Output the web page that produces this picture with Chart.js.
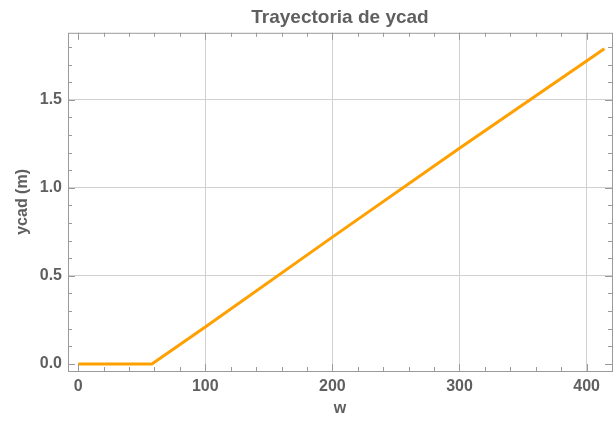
<!DOCTYPE html>
<html>
<head>
<meta charset="utf-8">
<script src="https://cdn.jsdelivr.net/npm/chart.js@4/dist/chart.umd.min.js"></script>
<style>
  html, body { margin: 0; padding: 0; background: #fff; }
  #wrap { width: 613px; height: 421px; position: relative; }
</style>
</head>
<body>
<div id="wrap"><canvas id="c"></canvas></div>
<script>
// data
const wValues = [0, 58, 100, 200, 300, 414];
const ycadValues = [0, 0, 0.21, 0.72, 1.225, 1.79];

// tick positions
const xMajor = [0, 100, 200, 300, 400];
const xMinor = [20, 40, 60, 80, 120, 140, 160, 180, 220, 240, 260, 280, 320, 340, 360, 380, 420];
const yMajor = [0, 0.5, 1.0, 1.5];
const yMinor = [0.1, 0.2, 0.3, 0.4, 0.6, 0.7, 0.8, 0.9, 1.1, 1.2, 1.3, 1.4, 1.6, 1.7, 1.8];

const TEXT = '#5f5f5f';
const FRAME = '#9a9a9a';
const GRID = '#d0d0d0';
const FONT = '"Liberation Sans", Arial, sans-serif';

// frame with inward ticks on all four sides (Mathematica style)
const framePlugin = {
  id: 'frame',
  afterDraw(chart) {
    const { ctx, chartArea: a, scales: { x, y } } = chart;
    ctx.save();
    ctx.strokeStyle = FRAME;
    ctx.lineWidth = 1;
    ctx.strokeRect(a.left + 0.5, a.top + 0.5, a.right - a.left, a.bottom - a.top);
    const tick = (vals, len, horiz) => {
      vals.forEach(v => {
        if (horiz) {
          const px = Math.round(x.getPixelForValue(v)) + 0.5;
          if (px < a.left || px > a.right) return;
          ctx.beginPath();
          ctx.moveTo(px, a.bottom); ctx.lineTo(px, a.bottom - len);
          ctx.moveTo(px, a.top); ctx.lineTo(px, a.top + len);
          ctx.stroke();
        } else {
          const py = Math.round(y.getPixelForValue(v)) + 0.5;
          if (py < a.top || py > a.bottom) return;
          ctx.beginPath();
          ctx.moveTo(a.left, py); ctx.lineTo(a.left + len, py);
          ctx.moveTo(a.right, py); ctx.lineTo(a.right - len, py);
          ctx.stroke();
        }
      });
    };
    tick(xMajor, 7, true);
    tick(xMinor, 4, true);
    tick(yMajor, 7, false);
    tick(yMinor, 4, false);
    ctx.restore();
  }
};

new Chart(document.getElementById('c'), {
  type: 'scatter',
  plugins: [framePlugin],
  data: {
    datasets: [{
      data: wValues.map((w, i) => ({ x: w, y: ycadValues[i] })),
      showLine: true,
      borderColor: '#ffa000',
      borderWidth: 3,
      pointRadius: 0,
      tension: 0,
      fill: false
    }]
  },
  options: {
    responsive: true,
    maintainAspectRatio: false,
    animation: false,
    layout: { padding: { left: 0, right: 1, top: 0, bottom: 0 } },
    plugins: {
      legend: { display: false },
      tooltip: { enabled: false },
      title: {
        display: true,
        fullSize: false,
        text: 'Trayectoria de ycad',
        color: TEXT,
        font: { family: FONT, size: 19, weight: 'bold', lineHeight: 1.2 },
        padding: { top: 6, bottom: 4 }
      }
    },
    scales: {
      x: {
        type: 'linear',
        min: -8,
        max: 420,
        afterBuildTicks: s => { s.ticks = xMajor.map(v => ({ value: v })); },
        afterFit: s => { s.height = 50; },
        grid: {
          color: c => (c.tick && c.tick.value === 0 ? 'rgba(0,0,0,0)' : GRID),
          lineWidth: 1,
          drawTicks: false
        },
        border: { display: false },
        ticks: {
          color: TEXT,
          padding: 6,
          font: { family: FONT, size: 16, weight: 'bold' },
          callback: v => String(v)
        },
        title: {
          display: true,
          text: 'w',
          color: TEXT,
          font: { family: FONT, size: 16, weight: 'bold', lineHeight: 1.2 },
          padding: { top: 0, bottom: 3 }
        }
      },
      y: {
        type: 'linear',
        min: -0.04,
        max: 1.88,
        afterBuildTicks: s => { s.ticks = yMajor.map(v => ({ value: v })); },
        afterFit: s => { s.width = 68; },
        grid: {
          color: c => (c.tick && c.tick.value === 0 ? 'rgba(0,0,0,0)' : GRID),
          lineWidth: 1,
          drawTicks: false
        },
        border: { display: false },
        ticks: {
          color: TEXT,
          padding: 6,
          font: { family: FONT, size: 16, weight: 'bold' },
          callback: v => Number(v).toFixed(1)
        },
        title: {
          display: true,
          text: 'ycad (m)',
          color: TEXT,
          font: { family: FONT, size: 16, weight: 'bold', lineHeight: 1.2 },
          padding: { top: 13, bottom: 0 }
        }
      }
    }
  }
});
</script>
</body>
</html>
